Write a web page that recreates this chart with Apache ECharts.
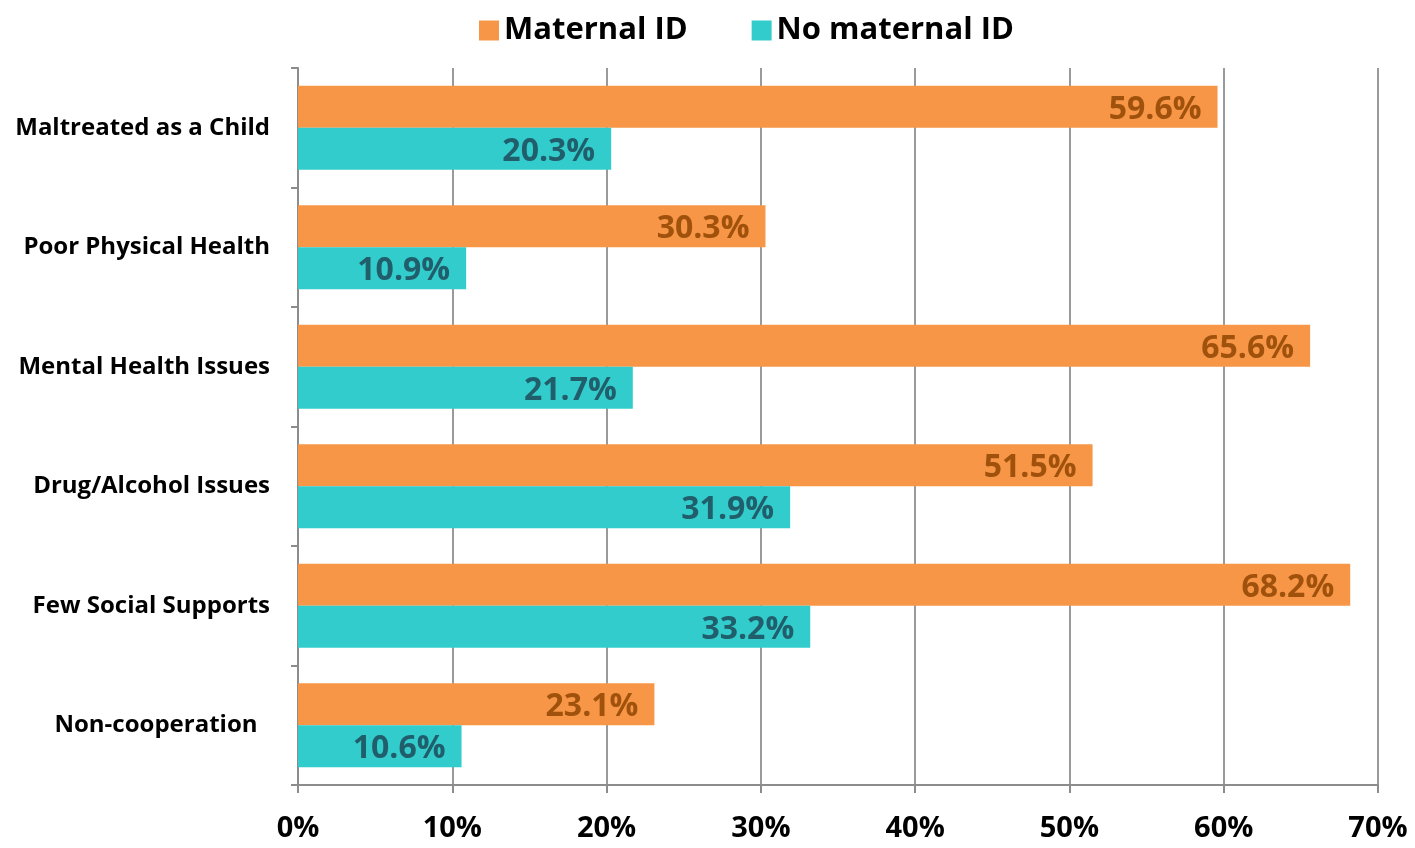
<!DOCTYPE html>
<html>
<head>
<meta charset="utf-8">
<script src="https://cdn.jsdelivr.net/npm/echarts@6/dist/echarts.min.js"></script>
<style>
  html, body { margin: 0; padding: 0; background: #fff; }
  #chart { width: 1415px; height: 848px; }
</style>
</head>
<body>
<div id="chart"></div>
<script>
// categories, top to bottom
const categories = [
  'Maltreated as a Child',
  'Poor Physical Health',
  'Mental Health Issues',
  'Drug/Alcohol Issues',
  'Few Social Supports',
  'Non-cooperation  '
]
const maternalId = [59.6, 30.3, 65.6, 51.5, 68.2, 23.1]
const noMaternalId = [20.3, 10.9, 21.7, 31.9, 33.2, 10.6]
const xTicks = [0, 10, 20, 30, 40, 50, 60, 70]

const font = '"Open Sans", sans-serif'
const myChart = echarts.init(document.getElementById('chart'))

// shared style for the value labels at the bar ends
const barLabel = (color) => ({
  show: true,
  position: 'insideRight',
  distance: 16,
  offset: [0, 3],
  formatter: (p) => p.value.toFixed(1) + '%',
  fontSize: 32,
  fontWeight: 'bold',
  color: color,
  fontFamily: font
})

const options = {
  animation: false,
  textStyle: { fontFamily: font },
  legend: {
    top: 10,
    left: 474,
    icon: 'rect',
    itemWidth: 20,
    itemHeight: 20,
    itemGap: 64,
    textStyle: { fontSize: 31, fontWeight: 'bold', color: '#000', fontFamily: font },
    data: ['Maternal ID', 'No maternal ID']
  },
  grid: { left: 298, right: 37, top: 68, bottom: 63 },
  xAxis: {
    type: 'value',
    min: xTicks[0],
    max: xTicks[xTicks.length - 1],
    interval: 10,
    axisLine: { show: true, lineStyle: { color: '#8c8c8c', width: 2 } },
    axisTick: { show: true, length: 8, lineStyle: { color: '#8c8c8c', width: 2 } },
    splitLine: { show: true, lineStyle: { color: '#9a9a9a', width: 2 } },
    axisLabel: {
      formatter: '{value}%',
      fontSize: 29,
      fontWeight: 'bold',
      color: '#000',
      margin: 29,
      fontFamily: font
    }
  },
  yAxis: {
    type: 'category',
    data: categories,
    inverse: true,
    axisLine: { show: true, lineStyle: { color: '#8c8c8c', width: 2 } },
    axisTick: { show: true, length: 7, lineStyle: { color: '#8c8c8c', width: 2 } },
    axisLabel: {
      fontSize: 24,
      fontWeight: 'bold',
      color: '#000',
      margin: 28,
      padding: [6, 0, 0, 0],
      fontFamily: font
    }
  },
  series: [
    {
      name: 'Maternal ID',
      type: 'bar',
      data: maternalId,
      barWidth: 42,
      barGap: '0%',
      itemStyle: { color: '#F79646' },
      label: barLabel('#A0520C')
    },
    {
      name: 'No maternal ID',
      type: 'bar',
      data: noMaternalId,
      barWidth: 42,
      barGap: '0%',
      itemStyle: { color: '#33CCCC' },
      label: barLabel('#215E6B')
    }
  ]
}
myChart.setOption(options)
</script>
</body>
</html>
